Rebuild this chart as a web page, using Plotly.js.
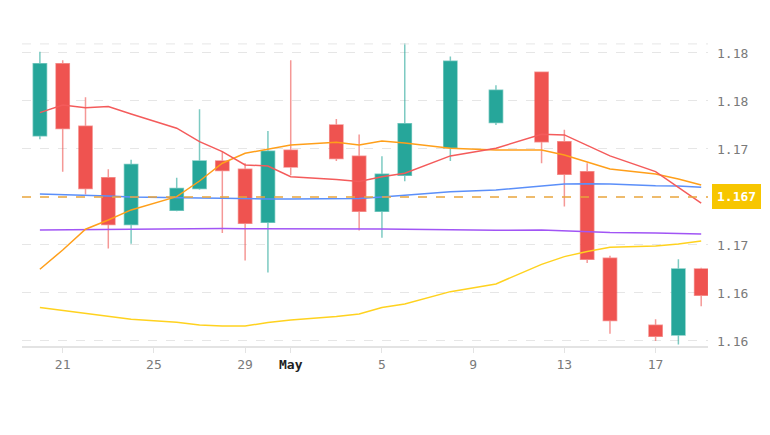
<!DOCTYPE html>
<html>
<head>
<meta charset="utf-8">
<script src="https://cdn.plot.ly/plotly-3.0.1.min.js"></script>
<style>html,body{margin:0;padding:0;background:#fff;}#chart{width:770px;height:435px;}</style>
</head>
<body>
<div id="chart"></div>
<script>
const dates = ['2025-04-20','2025-04-21','2025-04-22','2025-04-23','2025-04-24','2025-04-26','2025-04-27','2025-04-28','2025-04-29','2025-04-30','2025-05-01','2025-05-03','2025-05-04','2025-05-05','2025-05-06','2025-05-08','2025-05-10','2025-05-12','2025-05-13','2025-05-14','2025-05-15','2025-05-17','2025-05-18','2025-05-19'];
const open  = [1.1721,1.1781,1.1729,1.1686,1.1647,1.1659,1.1677,1.1700,1.1693,1.1649,1.1709,1.1730,1.1704,1.1658,1.1688,1.1711,1.1732,1.1774,1.1716,1.1691,1.1619,1.1563,1.1555,1.1610];
const high  = [1.1791,1.1784,1.1753,1.1693,1.1701,1.1686,1.1743,1.1708,1.1698,1.1725,1.1784,1.1735,1.1722,1.1704,1.1798,1.1787,1.1763,1.1774,1.1726,1.1698,1.1621,1.1568,1.1618,1.1611];
const low   = [1.1718,1.1691,1.1672,1.1627,1.1631,1.1658,1.1676,1.1640,1.1617,1.1607,1.1688,1.1700,1.1642,1.1636,1.1683,1.1700,1.1730,1.1698,1.1662,1.1615,1.1556,1.1550,1.1547,1.1579];
const close = [1.1781,1.1727,1.1677,1.1647,1.1697,1.1677,1.1700,1.1692,1.1648,1.1708,1.1695,1.1702,1.1658,1.1689,1.1731,1.1783,1.1759,1.1716,1.1689,1.1618,1.1567,1.1554,1.1610,1.1588];

const maRed    = [1.17403,1.17467,1.17444,1.17453,1.17392,1.17273,1.17161,1.17078,1.16967,1.16958,1.16869,1.16846,1.16828,1.16869,1.16898,1.17042,1.17106,1.17223,1.17217,1.17129,1.17042,1.16911,1.16783,1.16648];
const maOrange = [1.16098,1.16258,1.16431,1.16508,1.16592,1.16703,1.16833,1.16981,1.17064,1.17098,1.17133,1.17156,1.17133,1.17167,1.17150,1.17106,1.17092,1.17092,1.17050,1.16992,1.16933,1.16892,1.16850,1.16800];
const maBlue   = [1.16725,1.16721,1.16714,1.16708,1.16700,1.16698,1.16692,1.16689,1.16683,1.16683,1.16683,1.16683,1.16688,1.16700,1.16713,1.16744,1.16758,1.16792,1.16808,1.16811,1.16808,1.16794,1.16792,1.16781];
const maPurple = [1.16425,1.16427,1.16429,1.16431,1.16433,1.16436,1.16438,1.16438,1.16436,1.16436,1.16438,1.16436,1.16435,1.16433,1.16431,1.16425,1.16423,1.16425,1.16419,1.16413,1.16404,1.16400,1.16396,1.16392];
const maYellow = [1.15778,1.15754,1.15731,1.15704,1.15681,1.15656,1.15633,1.15625,1.15625,1.15653,1.15675,1.15703,1.15725,1.15778,1.15808,1.15911,1.15975,1.16138,1.16203,1.16246,1.16281,1.16292,1.16308,1.16333];

const currentPrice = 1.167;
const currentPriceLabel = '1.167';

const xTickVals = ['2025-04-21','2025-04-25','2025-04-29','2025-05-01','2025-05-05','2025-05-09','2025-05-13','2025-05-17'];
const xTickText = ['21','25','29','<b><span style="color:#222">May</span></b>','5','9','13','17'];
const yTickVals = [1.155,1.159,1.163,1.171,1.175,1.179];
const yTickText = ['1.16','1.16','1.17','1.17','1.18','1.18'];

const mono = 'DejaVu Sans Mono, monospace';

function maTrace(y, color) {
  return {type:'scatter', mode:'lines', x:dates, y:y, line:{color:color, width:1.5}, hoverinfo:'skip', showlegend:false};
}

const traces = [
  maTrace(maYellow, '#ffd21f'),
  maTrace(maPurple, '#a155f5'),
  maTrace(maBlue, '#5b8ff9'),
  maTrace(maOrange, '#ff9f1a'),
  maTrace(maRed, '#f45b5b'),
  {
    type:'candlestick', x:dates, open:open, high:high, low:low, close:close,
    increasing:{fillcolor:'#26a69a', line:{color:'rgba(38,166,154,0.6)', width:1.5}},
    decreasing:{fillcolor:'#ef5350', line:{color:'rgba(239,83,80,0.6)', width:1.5}},
    whiskerwidth:0, hoverinfo:'skip', showlegend:false
  }
];

const layout = {
  width:770, height:435,
  margin:{l:22, r:62, t:43, b:89},
  paper_bgcolor:'#fff', plot_bgcolor:'#fff',
  showlegend:false,
  boxgap:0.42, boxgroupgap:0,
  xaxis:{
    type:'date',
    range:['2025-04-19 05:10','2025-05-19 07:10'],
    rangeslider:{visible:false},
    showgrid:false, zeroline:false,
    showline:true, linecolor:'#e3e3e3', linewidth:2,
    ticks:'outside', ticklen:5, tickcolor:'#e3e3e3',
    tickmode:'array', tickvals:xTickVals, ticktext:xTickText,
    tickfont:{family:mono, size:13, color:'#7a7a7a'}
  },
  yaxis:{
    side:'right',
    range:[1.15458,1.17983],
    showgrid:true, gridcolor:'#e6e6e6', griddash:'dash', gridwidth:1,
    zeroline:false, showline:false, ticks:'',
    tickmode:'array', tickvals:yTickVals, ticktext:yTickText,
    ticklabelstandoff:8,
    tickfont:{family:mono, size:13, color:'#7a7a7a'}
  },
  shapes:[
    {type:'line', xref:'paper', yref:'paper', x0:0, x1:1, y0:0.997, y1:0.997, line:{color:'#e6e6e6', width:1, dash:'dash'}},
    {type:'line', xref:'paper', yref:'y', x0:0, x1:1, y0:currentPrice, y1:currentPrice, line:{color:'#e9a53c', width:1.5, dash:'dash'}}
  ],
  annotations:[
    {xref:'paper', yref:'y', x:1, y:currentPrice, xanchor:'left', yanchor:'middle', xshift:4,
     text:'<b>'+currentPriceLabel+'</b>', showarrow:false,
     bgcolor:'#f7c600', bordercolor:'#f7c600', borderpad:4,
     font:{family:mono, size:13, color:'#ffffff'}}
  ]
};

Plotly.newPlot('chart', traces, layout, {displayModeBar:false, staticPlot:true});
</script>
</body>
</html>
